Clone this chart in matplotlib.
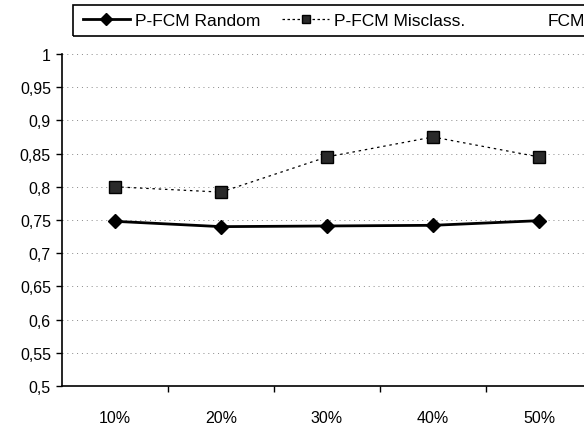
import matplotlib
matplotlib.use("Agg")
import matplotlib.pyplot as plt
from matplotlib.lines import Line2D
from matplotlib.patches import Rectangle

plt.rcParams['font.family'] = ['Liberation Sans', 'DejaVu Sans']

# noise levels and mean accuracy per method
levels = ["10%", "20%", "30%", "40%", "50%"]
pfcm_random = [0.748, 0.740, 0.741, 0.742, 0.749]
pfcm_misclass = [0.800, 0.792, 0.845, 0.875, 0.845]
yticks = [0.5, 0.55, 0.6, 0.65, 0.7, 0.75, 0.8, 0.85, 0.9, 0.95, 1.0]

fig = plt.figure(figsize=(5.84, 4.27), dpi=100)
ax = fig.add_axes([62 / 584, 40 / 427, 530 / 584, 332 / 427])

x = list(range(len(levels)))
ax.plot(x, pfcm_random, color='black', lw=2, marker='D', ms=7, mfc='black', mec='black')
ax.plot(x, pfcm_misclass, color='black', lw=0.9, ls=(0, (2, 3)), marker='s', ms=8,
        mfc='#2a2a2a', mec='black')

ax.set_xlim(-0.5, len(levels) - 0.5)
ax.set_ylim(0.5, 1.0)
ax.set_yticks(yticks)
ax.set_yticklabels([f"{v:g}".replace('.', ',') for v in yticks], fontsize=11.5)
for v in yticks[1:]:
    ax.axhline(v, color='#888888', lw=0.7, ls=(0, (1, 4)), zorder=0)

# category ticks sit between groups, labels in the middle
ax.set_xticks([i + 0.5 for i in x[:-1]])
ax.set_xticklabels([])
ax.set_xticks(x, minor=True)
ax.set_xticklabels(levels, minor=True, fontsize=11.5)
ax.tick_params(axis='x', which='major', direction='out', length=4, width=1)
ax.tick_params(axis='x', which='minor', length=0, pad=17)
ax.tick_params(axis='y', direction='out', length=4, width=1, pad=4)

for side in ('top', 'right'):
    ax.spines[side].set_visible(False)
ax.spines['left'].set_linewidth(1.2)
ax.spines['bottom'].set_linewidth(1.2)

# legend strip across the top
fig.patches.append(Rectangle((73 / 584, 1 - 37 / 427), 0.95, 31 / 427,
                             transform=fig.transFigure, fill=False, ec='black', lw=1.2))
handles = [
    Line2D([], [], color='black', lw=2, marker='D', ms=6),
    Line2D([], [], color='black', lw=0.9, ls=(0, (2, 2)), marker='s', ms=6, mfc='#2a2a2a'),
]
fig.legend(handles, ["P-FCM Random", "P-FCM Misclass."], ncol=2, frameon=False,
           loc='center left', bbox_to_anchor=(83 / 584, 1 - 21 / 427), fontsize=12.5,
           borderpad=0, borderaxespad=0, handlelength=2.7, handletextpad=0.3,
           columnspacing=1.25)
fig.text(548 / 584, 1 - 21 / 427, "FCM", fontsize=12.5, va='center', ha='left')

fig.savefig("out.png", dpi=100)
